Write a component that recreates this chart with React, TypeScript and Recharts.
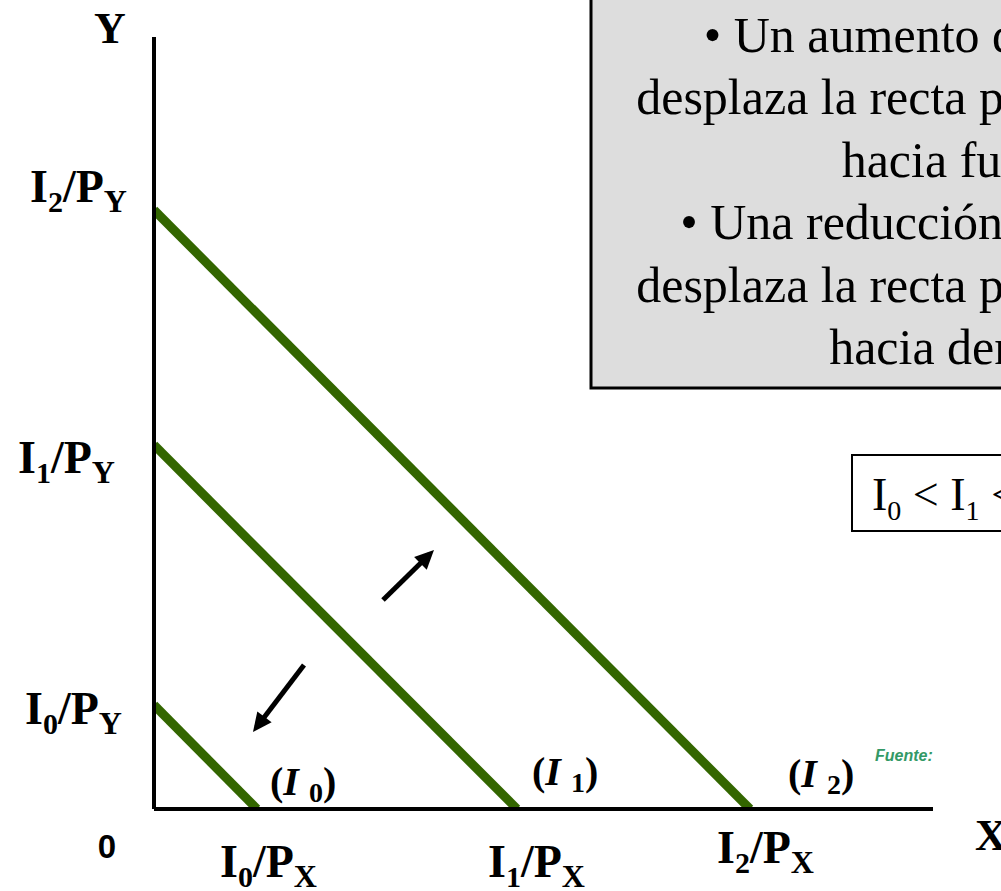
import { LineChart, Line, XAxis, YAxis } from "recharts";

// budget lines: intercepts on each axis (I/PX and I/PY), one per income level
const incomeSubs = ["0", "1", "2"];
const xIntercepts = [1.03, 3.63, 5.96];
const yIntercepts = [1.04, 3.64, 5.99];

// shift arrows (tail -> shaft end), same units as the axes
const arrowOut = [
  { x: 2.29, y: 2.09 },
  { x: 2.757, y: 2.548 },
];
const arrowIn = [
  { x: 1.5, y: 1.44 },
  { x: 1.026, y: 0.818 },
];

const noteLines = [
  "• Un aumento de la renta",
  "desplaza la recta presupuestaria",
  "hacia fuera",
  "• Una reducción de la renta",
  "desplaza la recta presupuestaria",
  "hacia dentro",
];

const GREEN = "#336600";
const SERIF = "'Liberation Serif', 'Times New Roman', serif";
const SANS = "'Liberation Sans', Arial, sans-serif";
const PX_PER_UNIT = 100;

// label placement around each tick
const yTickNudge = [
  { left: 25, dy: 19 },
  { left: 18, dy: 28 },
  { left: 30, dy: -8 },
];
const xTickNudge = [
  { dx: -37, base: 68, tagDx: 13, tagBase: -14 },
  { dx: -29, base: 68, tagDx: 15, tagBase: -24 },
  { dx: -33, base: 54, tagDx: 38, tagBase: -22 },
];

const budgetLines = xIntercepts.map((xi, i) => [
  { x: 0, y: yIntercepts[i] },
  { x: xi, y: 0 },
]);

function RatioLabel({ x, y, sub, den }: { x: number; y: number; sub: string; den: string }) {
  return (
    <text x={x} y={y} fontFamily={SERIF} fontWeight="bold" fontSize={46} fill="#000">
      <tspan>I</tspan>
      <tspan fontSize={30} dy={10}>{sub}</tspan>
      <tspan dy={-10}>/P</tspan>
      <tspan fontSize={32} dy={10}>{den}</tspan>
    </text>
  );
}

function YTick(props: any) {
  const { y, index } = props;
  const n = yTickNudge[index];
  return <RatioLabel x={n.left} y={y + n.dy} sub={incomeSubs[index]} den="Y" />;
}

function XTick(props: any) {
  const { x, y, index } = props;
  const n = xTickNudge[index];
  return (
    <g>
      <RatioLabel x={x + n.dx} y={y + n.base} sub={incomeSubs[index]} den="X" />
      <text x={x + n.tagDx} y={y + n.tagBase} fontFamily={SERIF} fontWeight="bold" fontSize={40} fill="#000">
        <tspan>(</tspan>
        <tspan fontStyle="italic">I </tspan>
        <tspan fontSize={28} dy={7}>{incomeSubs[index]}</tspan>
        <tspan dy={-7}>)</tspan>
      </text>
    </g>
  );
}

function arrowHead(points: { x: number; y: number }[]) {
  const dx = points[1].x - points[0].x;
  const dy = -(points[1].y - points[0].y);
  const len = Math.hypot(dx, dy);
  const ux = dx / len;
  const uy = dy / len;
  return (p: any) => {
    if (p.index !== 1) return <g key={`a-${p.index}`} />;
    const tx = p.cx + ux * 6;
    const ty = p.cy + uy * 6;
    const L = 19;
    const w = 9;
    const bx = tx - ux * L;
    const by = ty - uy * L;
    const pts = `${tx},${ty} ${bx - uy * w},${by + ux * w} ${bx + uy * w},${by - ux * w}`;
    return <polygon key={`a-${p.index}`} points={pts} fill="#000" />;
  };
}

export default function App() {
  const plotW = 779;
  const plotH = 772;
  return (
    <div style={{ position: "absolute", left: 0, top: 0, width: 1001, height: 891, background: "#fff" }}>
      <LineChart width={1001} height={891} margin={{ top: 37, right: 68, bottom: 81, left: 153 }}>
        <XAxis
          type="number"
          dataKey="x"
          domain={[0, plotW / PX_PER_UNIT]}
          allowDataOverflow
          ticks={xIntercepts}
          interval={0}
          height={1}
          tickSize={0}
          tickMargin={0}
          tickLine={false}
          axisLine={{ stroke: "#000", strokeWidth: 4 }}
          tick={<XTick />}
        />
        <YAxis
          type="number"
          dataKey="y"
          domain={[0, plotH / PX_PER_UNIT]}
          allowDataOverflow
          ticks={yIntercepts}
          interval={0}
          width={1}
          tickSize={0}
          tickMargin={0}
          tickLine={false}
          axisLine={{ stroke: "#000", strokeWidth: 4 }}
          tick={<YTick />}
        />
        {budgetLines.map((d, i) => (
          <Line
            key={i}
            data={d}
            dataKey="y"
            type="linear"
            stroke={GREEN}
            strokeWidth={9}
            dot={false}
            activeDot={false}
            isAnimationActive={false}
          />
        ))}
        {[arrowOut, arrowIn].map((d, i) => (
          <Line
            key={`arrow-${i}`}
            data={d}
            dataKey="y"
            type="linear"
            stroke="#000"
            strokeWidth={5}
            dot={arrowHead(d)}
            activeDot={false}
            isAnimationActive={false}
          />
        ))}
      </LineChart>

      <svg
        width={1001}
        height={891}
        style={{ position: "absolute", left: 0, top: 0, pointerEvents: "none" }}
      >
        {/* explanatory note */}
        <rect x={591} y={-3} width={722} height={391} fill="#dddddd" stroke="#000" strokeWidth={3} />
        {noteLines.map((t, i) => (
          <text
            key={i}
            x={952}
            y={52 + i * 62.4}
            textAnchor="middle"
            fontFamily={SERIF}
            fontSize={50}
            fill="#000"
          >
            {t}
          </text>
        ))}

        {/* income ordering */}
        <rect x={852} y={455} width={300} height={76} fill="#fff" stroke="#000" strokeWidth={2} />
        <text x={872} y={510} fontFamily={SERIF} fontSize={46} fill="#000">
          <tspan>I</tspan>
          <tspan fontSize={28} dy={10}>0</tspan>
          <tspan dy={-10}>{" < I"}</tspan>
          <tspan fontSize={28} dy={10}>1</tspan>
          <tspan dy={-10}>{" < I"}</tspan>
          <tspan fontSize={28} dy={10}>2</tspan>
        </text>

        <text x={875} y={761} fontFamily={SANS} fontWeight="bold" fontStyle="italic" fontSize={16} fill="#339966">
          Fuente:
        </text>

        {/* axis titles and origin */}
        <text x={110} y={43} textAnchor="middle" fontFamily={SERIF} fontWeight="bold" fontSize={44} fill="#000">
          Y
        </text>
        <text x={975} y={850} fontFamily={SERIF} fontWeight="bold" fontSize={44} fill="#000">
          X
        </text>
        <text x={107} y={858} textAnchor="middle" fontFamily={SANS} fontWeight="bold" fontSize={33} fill="#000">
          0
        </text>
      </svg>
    </div>
  );
}
